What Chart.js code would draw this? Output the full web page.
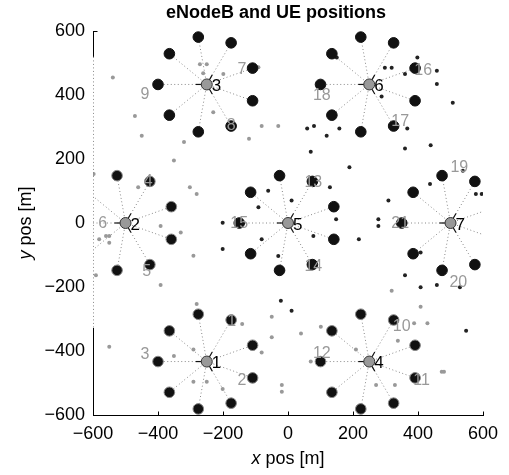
<!DOCTYPE html>
<html>
<head>
<meta charset="utf-8">
<script src="https://cdn.jsdelivr.net/npm/chart.js@4.4.0/dist/chart.umd.min.js"></script>
<style>
  body { margin: 0; background: #fff; }
  #wrap { width: 509px; height: 475px; }
</style>
</head>
<body>
<div id="wrap"><canvas id="myChart" width="509" height="475"></canvas></div>
<script>
// eNodeB sites
const enbNames = ["1", "2", "3", "4", "5", "6", "7"];
const enbX = [-250, -500, -250, 250, 0, 250, 500];
const enbY = [-433, 0, 433, -433, 0, 433, 0];

// UEs served by each eNodeB (one row per site)
const ueX = [
  [-109, -175, -276, -365, -400, -365, -276, -175, -109],
  [-359, -425, -526, -615, -650, -615, -526, -425, -359],
  [-109, -175, -276, -365, -400, -365, -276, -175, -109],
  [391, 325, 224, 135, 100, 135, 224, 325, 391],
  [141, 75, -26, -115, -150, -115, -26, 75, 141],
  [391, 325, 224, 135, 100, 135, 224, 325, 391],
  [641, 575, 474, 385, 350, 385, 474, 575, 641]
];
const ueY = [
  [-382, -303, -285, -337, -433, -529, -581, -563, -484],
  [51, 130, 148, 96, 0, -96, -148, -130, -51],
  [484, 563, 581, 529, 433, 337, 285, 303, 382],
  [-382, -303, -285, -337, -433, -529, -581, -563, -484],
  [51, 130, 148, 96, 0, -96, -148, -130, -51],
  [484, 563, 581, 529, 433, 337, 285, 303, 382],
  [51, 130, 148, 96, 0, -96, -148, -130, -51]
];

// sector numbers
const sectorNames = ["1","2","3","4","5","6","7","8","9","10","11","12","13","14","15","16","17","18","19","20","21"];
const sectorX = [-173, -142, -440, -430, -435, -570, -142, -175, -440, 350, 411, 104, 78, 78, -150, 416, 345, 104, 527, 524, 345];
const sectorY = [-308, -493, -412, 129, -152, -3, 478, 303, 400, -324, -493, -407, 126, -137, -3, 476, 317, 397, 174, -187, -3];

// small gray dots
const grayX = [-539, -271, -250, -261, -199, -91, -230, -471, -450, -320, -351, -81, -30, -120, -598, -461, -302, -281, -392, -330,
  -581, -560, -550, -550, -291, -591, -392, -281, -141, -50, -50, -81, -550, -351, -291, -291, -250, -201, -19, -19,
  319, 408, 40, 101, 388, 429, 338, 209, 70, 473, 480, 271, 329];
const grayY = [455, 496, 496, 468, 466, 487, 346, 334, 273, 253, 195, 303, 303, 263, 153, 112, 112, 91, -9, -30,
  -51, -41, -41, -62, -102, -163, -194, -253, -316, -293, -357, -405, -387, -416, -395, -496, -496, -519, -506, -527,
  -212, -262, -345, -324, -313, -313, -368, -395, -433, -465, -465, -506, -506];

// small black dots
const blackX = [150, 298, 319, 360, 398, 458, 458, 507, 288, 59, 80, 119, 158, 367, 70, 360, 439, 189, 538, -61, -91, -201, -201,
  -81, -30, -22, 129, 11, 148, 78, 218, 309, 278, 278, 437, 578, 596, 408, 360, 408, 458, 529, 11, 548];
const blackY = [517, 485, 485, 466, 517, 476, 434, 376, 395, 295, 303, 273, 295, 295, 223, 233, 243, 174, 163, 101, 49, 1, -81,
  -51, -103, -243, 112, 70, 12, -41, -51, 70, 12, -9, 122, 91, 91, -92, -163, -201, -194, -201, -274, -337];

const axisTicks = [-600, -400, -200, 0, 200, 400, 600];
const antennaDirs = [180, 60, 300];

const plotFont = '"Liberation Sans", Arial, Helvetica, sans-serif';
const minus = v => String(v).replace("-", "\u2212");

// build datasets
const datasets = [];

datasets.push({
  label: "eNodeB",
  data: enbX.map((x, i) => ({ x, y: enbY[i] })),
  backgroundColor: "#999",
  borderColor: "#333",
  borderWidth: 1,
  pointRadius: 5.5,
  order: 0
});

const ueData = [];
const ueRim = [];
ueX.forEach((row, i) => row.forEach((x, j) => {
  ueData.push({ x, y: ueY[i][j] });
  ueRim.push(i === 0 || i === 1 || i === 3 ? "#888" : "#111");
}));
datasets.push({
  label: "UE",
  data: ueData,
  backgroundColor: "#111",
  borderColor: ueRim,
  borderWidth: 1,
  pointRadius: ctx => {
    const p = ctx.raw;
    return p && Math.abs(p.x) <= 600 && Math.abs(p.y) <= 600 ? 5.3 : 0;
  },
  clip: 0,
  order: 2
});

datasets.push({
  label: "small black",
  data: blackX.map((x, i) => ({ x, y: blackY[i] })),
  backgroundColor: "#222",
  borderWidth: 0,
  pointRadius: 2,
  order: 3
});

datasets.push({
  label: "small gray",
  data: grayX.map((x, i) => ({ x, y: grayY[i] })),
  backgroundColor: "#999",
  borderWidth: 0,
  pointRadius: 2,
  order: 4
});

// dotted links eNodeB -> UE
ueX.forEach((row, i) => row.forEach((x, j) => {
  datasets.push({
    label: "link",
    data: [{ x: enbX[i], y: enbY[i] }, { x, y: ueY[i][j] }],
    showLine: true,
    borderColor: "#888",
    borderWidth: 1,
    borderDash: [1, 2.5],
    pointRadius: 0,
    order: 5
  });
}));

const drawExtras = {
  id: "drawExtras",
  beforeDatasetDraw(chart, args) {
    if (args.meta.label !== "eNodeB") return;
    const ctx = chart.ctx;
    ctx.save();
    ctx.strokeStyle = "#111";
    ctx.lineWidth = 1.2;
    args.meta.data.forEach(pt => {
      antennaDirs.forEach(a => {
        const r = a * Math.PI / 180;
        ctx.beginPath();
        ctx.moveTo(pt.x, pt.y);
        ctx.lineTo(pt.x + 11 * Math.cos(r), pt.y - 11 * Math.sin(r));
        ctx.stroke();
      });
    });
    ctx.restore();
  },
  afterDatasetsDraw(chart) {
    const { ctx, scales: { x, y } } = chart;
    ctx.save();
    ctx.font = "16px " + plotFont;
    ctx.fillStyle = "#999";
    ctx.textAlign = "center";
    ctx.textBaseline = "middle";
    sectorNames.forEach((s, i) => {
      ctx.fillText(s, x.getPixelForValue(sectorX[i]), y.getPixelForValue(sectorY[i]));
    });
    ctx.font = "17px " + plotFont;
    ctx.fillStyle = "#000";
    ctx.textAlign = "left";
    enbNames.forEach((s, i) => {
      ctx.fillText(s, x.getPixelForValue(enbX[i]) + 5, y.getPixelForValue(enbY[i]) + 2);
    });
    ctx.restore();
  },
  afterDraw(chart) {
    const { ctx, chartArea, scales: { x, y } } = chart;
    ctx.save();
    const lx = Math.round(chartArea.left) + 0.5;
    const by = Math.round(chartArea.bottom) + 0.5;

    // left axis: solid ends, dotted middle
    ctx.strokeStyle = "#000";
    ctx.lineWidth = 1;
    ctx.beginPath();
    ctx.moveTo(lx, y.getPixelForValue(600));
    ctx.lineTo(lx, y.getPixelForValue(519));
    ctx.moveTo(lx, y.getPixelForValue(-328));
    ctx.lineTo(lx, by);
    // inward ticks
    ctx.moveTo(lx, Math.round(y.getPixelForValue(600)) + 0.5);
    ctx.lineTo(lx + 4, Math.round(y.getPixelForValue(600)) + 0.5);
    axisTicks.slice(1).forEach(v => {
      const px = Math.round(x.getPixelForValue(v)) + 0.5;
      ctx.moveTo(px, by);
      ctx.lineTo(px, by - 4);
    });
    ctx.stroke();
    ctx.strokeStyle = "#888";
    ctx.setLineDash([1, 2.5]);
    ctx.beginPath();
    ctx.moveTo(lx, y.getPixelForValue(519));
    ctx.lineTo(lx, y.getPixelForValue(-328));
    ctx.stroke();
    ctx.setLineDash([]);

    // title
    ctx.fillStyle = "#000";
    ctx.textBaseline = "middle";
    ctx.textAlign = "center";
    ctx.font = "bold 18px " + plotFont;
    ctx.fillText("eNodeB and UE positions", (chartArea.left + chartArea.right) / 2 - 12, 13);

    // axis titles with italic variable
    const measure = (cx) => {
      ctx.font = "italic 18px " + plotFont;
      const w1 = ctx.measureText("x").width;
      ctx.font = "18px " + plotFont;
      const w2 = ctx.measureText(" pos [m]").width;
      ctx.textAlign = "left";
      return { w1, sx: cx - (w1 + w2) / 2 };
    };
    let m = measure((chartArea.left + chartArea.right) / 2);
    const xty = 459;
    ctx.font = "italic 18px " + plotFont;
    ctx.fillText("x", m.sx, xty);
    ctx.font = "18px " + plotFont;
    ctx.fillText(" pos [m]", m.sx + m.w1, xty);

    ctx.translate(26, (chartArea.top + chartArea.bottom) / 2);
    ctx.rotate(-Math.PI / 2);
    m = measure(0);
    ctx.font = "italic 18px " + plotFont;
    ctx.fillText("y", m.sx, 0);
    ctx.font = "18px " + plotFont;
    ctx.fillText(" pos [m]", m.sx + m.w1, 0);
    ctx.restore();
  }
};

const config = {
  type: "scatter",
  data: { datasets },
  options: {
    responsive: false,
    devicePixelRatio: 1,
    animation: false,
    layout: { padding: { top: 31, right: 26, left: 0, bottom: 0 } },
    plugins: {
      legend: { display: false },
      tooltip: { enabled: false },
      title: { display: false }
    },
    scales: {
      x: {
        type: "linear",
        min: -600,
        max: 600,
        afterBuildTicks: s => { s.ticks = axisTicks.map(v => ({ value: v })); },
        afterFit: s => { s.height = 60; },
        grid: { display: false, drawTicks: false },
        border: { display: true, color: "#000", width: 1 },
        ticks: {
          color: "#000",
          font: { family: plotFont, size: 18 },
          padding: 8,
          maxRotation: 0,
          callback: minus
        }
      },
      y: {
        type: "linear",
        min: -600,
        max: 600,
        afterBuildTicks: s => { s.ticks = axisTicks.map(v => ({ value: v })); },
        afterFit: s => { s.width = 93; },
        grid: { display: false, drawTicks: false },
        border: { display: false },
        ticks: {
          color: "#000",
          font: { family: plotFont, size: 18 },
          padding: 8,
          callback: minus
        }
      }
    }
  },
  plugins: [drawExtras]
};

const chartDOM = document.getElementById("myChart");
const myChart = new Chart(chartDOM, config);
</script>
</body>
</html>
